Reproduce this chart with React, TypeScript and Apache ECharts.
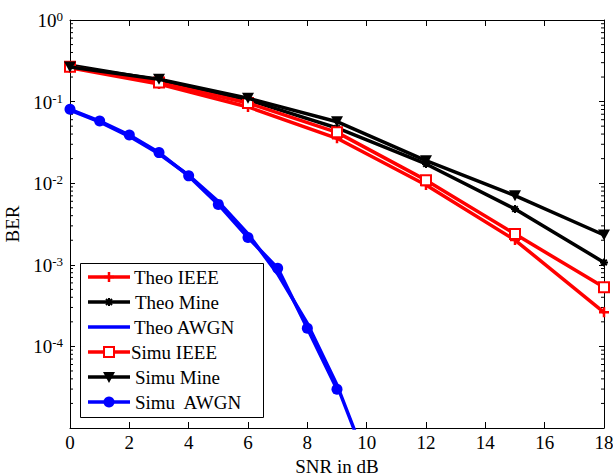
import React, { useEffect, useRef } from 'react';
import * as echarts from 'echarts';

const FONT = '"Liberation Serif", "Times New Roman", serif';

// x positions (SNR in dB)
const snrMain = [0, 3, 6, 9, 12, 15, 18];
const snrAwgnTheo = [0, 1, 2, 3, 4, 5, 6, 7, 8, 9, 10];
const snrAwgnSimu = [0, 1, 2, 3, 4, 5, 6, 7, 8, 9];

// BER values
const theoIEEE = [0.26, 0.164, 0.086, 0.0355, 0.0095, 0.00201, 0.000262];
const theoMine = [0.28, 0.184, 0.105, 0.0475, 0.0172, 0.00483, 0.00107];
const theoAWGN = [0.0786, 0.0563, 0.0375, 0.0229, 0.0125, 0.00595, 0.00239, 0.000773, 0.000191, 3.36e-5, 3.87e-6];
const simuIEEE = [0.268, 0.171, 0.096, 0.042, 0.0109, 0.00238, 0.00053];
const simuMine = [0.265, 0.188, 0.11, 0.0567, 0.0189, 0.00703, 0.00232];
const simuAWGN = [0.0805, 0.0578, 0.039, 0.0237, 0.0123, 0.0055, 0.00216, 0.00091, 0.000167, 2.98e-5];

const xTickLabels = ['0', '2', '4', '6', '8', '10', '12', '14', '16', '18'];
const yDecades = [-5, -4, -3, -2, -1, 0];
const legendNames = ['Theo IEEE', 'Theo Mine', 'Theo AWGN', 'Simu IEEE', 'Simu Mine', 'Simu  AWGN'];

const RED = '#ff0000';
const BLACK = '#000000';
const BLUE = '#0000ff';

const PLUS = 'path://M5,0L5,10M0,5L10,5';
const STAR = 'path://M5,0L5,10M0,5L10,5M1.5,1.5L8.5,8.5M1.5,8.5L8.5,1.5';

const minorTicks: number[] = [];
for (let i = 0; i < yDecades.length - 1; i++) {
  for (let m = 2; m <= 9; m++) minorTicks.push(m * Math.pow(10, yDecades[i]));
}

const pairs = (xs: number[], ys: number[]) => ys.map((y, i) => [xs[i], y]);

export default function App() {
  const ref = useRef<HTMLDivElement>(null);
  useEffect(() => {
    if (!ref.current) return;
    const chart = echarts.init(ref.current, undefined, { renderer: 'svg' });

    const gLeft = 70, gRight = 9, gTop = 20, gBottom = 48;

    // legend drawn with graphic elements
    const lx0 = 88, lx1 = 130, mx = 109, ly0 = 277, lstep = 25;
    const legendColors = [RED, BLACK, BLUE, RED, BLACK, BLUE];
    const textX = [134, 135, 134, 131, 135, 135];
    const graphics: any[] = [
      {
        type: 'rect', z: 100,
        shape: { x: 80.5, y: 263.5, width: 183, height: 154 },
        style: { fill: '#fff', stroke: '#000', lineWidth: 1 },
      },
    ];
    legendNames.forEach((name, i) => {
      const y = ly0 + i * lstep;
      graphics.push({
        type: 'line', z: 101,
        shape: { x1: lx0, y1: y, x2: lx1, y2: y },
        style: { stroke: legendColors[i], lineWidth: 3.5 },
      });
      graphics.push({
        type: 'text', z: 102, x: textX[i], y: y,
        style: { text: name, fill: '#000', font: `19px ${FONT}`, verticalAlign: 'middle', align: 'left' },
      });
    });
    // markers in legend
    graphics.push(
      { type: 'line', z: 103, shape: { x1: mx - 5, y1: ly0, x2: mx + 5, y2: ly0 }, style: { stroke: RED, lineWidth: 2.5 } },
      { type: 'line', z: 103, shape: { x1: mx, y1: ly0 - 5, x2: mx, y2: ly0 + 5 }, style: { stroke: RED, lineWidth: 2.5 } },
    );
    const sy = ly0 + lstep;
    graphics.push(
      { type: 'line', z: 103, shape: { x1: mx - 4, y1: sy, x2: mx + 4, y2: sy }, style: { stroke: BLACK, lineWidth: 2 } },
      { type: 'line', z: 103, shape: { x1: mx, y1: sy - 4, x2: mx, y2: sy + 4 }, style: { stroke: BLACK, lineWidth: 2 } },
      { type: 'line', z: 103, shape: { x1: mx - 3, y1: sy - 3, x2: mx + 3, y2: sy + 3 }, style: { stroke: BLACK, lineWidth: 2 } },
      { type: 'line', z: 103, shape: { x1: mx - 3, y1: sy + 3, x2: mx + 3, y2: sy - 3 }, style: { stroke: BLACK, lineWidth: 2 } },
    );
    const qy = ly0 + 3 * lstep;
    graphics.push({ type: 'rect', z: 103, shape: { x: mx - 5, y: qy - 5, width: 10, height: 10 }, style: { fill: '#fff', stroke: RED, lineWidth: 2 } });
    const ty = ly0 + 4 * lstep;
    graphics.push({ type: 'polygon', z: 103, shape: { points: [[mx - 6, ty - 5], [mx + 6, ty - 5], [mx, ty + 6]] }, style: { fill: BLACK } });
    const cy = ly0 + 5 * lstep;
    graphics.push({ type: 'circle', z: 103, shape: { cx: mx, cy: cy, r: 5.5 }, style: { fill: BLUE } });

    const axisLineStyle = { lineStyle: { color: '#000', width: 1 } };
    const baseLine = (name: string, data: number[][], color: string, extra: any) => ({
      name,
      type: 'line',
      data,
      xAxisIndex: 0,
      yAxisIndex: 0,
      clip: true,
      lineStyle: { color, width: 3.5 },
      itemStyle: { color, borderColor: color },
      emphasis: { disabled: true },
      ...extra,
    });

    const option: any = {
      animation: false,
      backgroundColor: '#fff',
      grid: { left: gLeft, right: gRight, top: gTop, bottom: gBottom, containLabel: false, outerBoundsMode: 'none' },
      xAxis: [
        {
          type: 'value', min: 0, max: 18, interval: 2, position: 'bottom',
          name: 'SNR in dB', nameLocation: 'middle', nameGap: 26,
          nameTextStyle: { fontFamily: FONT, fontSize: 19, color: '#000' },
          axisLine: { show: true, onZero: false, ...axisLineStyle },
          axisTick: { show: true, inside: true, length: 6, lineStyle: { color: '#000' } },
          axisLabel: {
            show: true, margin: 5, fontFamily: FONT, fontSize: 19, color: '#000',
            formatter: (v: number) => xTickLabels[Math.round(v / 2)] ?? String(v),
          },
          splitLine: { show: false },
        },
        {
          type: 'value', min: 0, max: 18, interval: 2, position: 'top',
          axisLine: { show: true, onZero: false, ...axisLineStyle },
          axisTick: { show: true, inside: true, length: 6, lineStyle: { color: '#000' } },
          axisLabel: { show: false },
          splitLine: { show: false },
        },
      ],
      yAxis: [
        {
          type: 'log', logBase: 10, min: 1e-5, max: 1, position: 'left',
          name: 'BER', nameLocation: 'middle', nameGap: 42,
          nameTextStyle: { fontFamily: FONT, fontSize: 19, color: '#000' },
          axisLine: { show: true, onZero: false, ...axisLineStyle },
          axisTick: { show: true, inside: true, length: 5, lineStyle: { color: '#000' } },
          axisLabel: {
            show: true, margin: 7, showMinLabel: false,
            formatter: (v: number) => `{b|10}{s|${Math.round(Math.log10(v))}}`,
            rich: {
              b: { fontFamily: FONT, fontSize: 19, color: '#000', lineHeight: 20, verticalAlign: 'bottom' },
              s: { fontFamily: FONT, fontSize: 13, color: '#000', lineHeight: 13, verticalAlign: 'top' },
            },
          },
          splitLine: { show: false },
        },
        {
          type: 'log', logBase: 10, min: 1e-5, max: 1, position: 'right',
          axisLine: { show: true, onZero: false, ...axisLineStyle },
          axisTick: { show: true, inside: true, length: 5, lineStyle: { color: '#000' } },
          axisLabel: { show: false },
          splitLine: { show: false },
        },
      ],
      graphic: graphics,
      series: [
        {
          type: 'custom',
          name: 'minor ticks',
          xAxisIndex: 0,
          yAxisIndex: 0,
          silent: true,
          z: 1,
          data: minorTicks.map((v) => [0, v]),
          renderItem: (_params: any, api: any) => {
            const v = api.value(1);
            const l = api.coord([0, v]);
            const r = api.coord([18, v]);
            return {
              type: 'group',
              children: [
                { type: 'line', shape: { x1: l[0], y1: l[1], x2: l[0] + 3, y2: l[1] }, style: { stroke: '#000', lineWidth: 1 } },
                { type: 'line', shape: { x1: r[0] - 3, y1: r[1], x2: r[0], y2: r[1] }, style: { stroke: '#000', lineWidth: 1 } },
              ],
            };
          },
        },
        baseLine('Theo IEEE', pairs(snrMain, theoIEEE), RED, {
          symbol: PLUS, symbolSize: 10, showSymbol: true, z: 2,
          itemStyle: { color: RED, borderColor: RED, borderWidth: 2.5 },
        }),
        baseLine('Theo Mine', pairs(snrMain, theoMine), BLACK, {
          symbol: STAR, symbolSize: 8, showSymbol: true, z: 3,
          itemStyle: { color: BLACK, borderColor: BLACK, borderWidth: 2 },
        }),
        baseLine('Theo AWGN', pairs(snrAwgnTheo, theoAWGN), BLUE, {
          symbol: 'none', z: 4,
        }),
        baseLine('Simu IEEE', pairs(snrMain, simuIEEE), RED, {
          symbol: 'emptyRect', symbolSize: 10, showSymbol: true, z: 5,
          itemStyle: { color: RED, borderColor: RED, borderWidth: 2 },
        }),
        baseLine('Simu Mine', pairs(snrMain, simuMine), BLACK, {
          symbol: 'triangle', symbolRotate: 180, symbolSize: [12, 11], showSymbol: true, z: 6,
          itemStyle: { color: BLACK, borderColor: BLACK, borderWidth: 0 },
        }),
        baseLine('Simu  AWGN', pairs(snrAwgnSimu, simuAWGN), BLUE, {
          symbol: 'circle', symbolSize: 11, showSymbol: true, z: 7,
          itemStyle: { color: BLUE, borderColor: BLUE, borderWidth: 0 },
        }),
      ],
    };

    chart.setOption(option);
    return () => chart.dispose();
  }, []);

  return (
    <div
      ref={ref}
      style={{ position: 'fixed', left: 0, top: 0, width: 613, height: 476, background: '#fff' }}
    />
  );
}
